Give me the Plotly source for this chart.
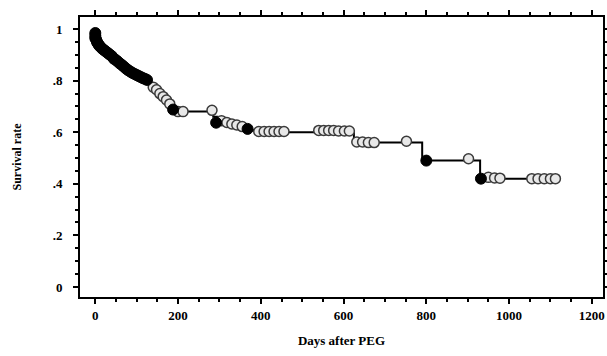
import plotly.graph_objects as go

# Kaplan-Meier step curve (event times and survival after each event)
step_days = [0, 4, 8, 12, 18, 25, 35, 45, 55, 65, 75, 85, 95, 105, 115, 125,
             135, 145, 155, 165, 175, 185, 195, 285, 295, 310, 330, 350, 375,
             400, 625, 790, 930, 1112]
step_surv = [1.0, 0.975, 0.955, 0.94, 0.925, 0.91, 0.895, 0.88, 0.868, 0.856,
             0.845, 0.835, 0.825, 0.815, 0.808, 0.80,
             0.785, 0.765, 0.75, 0.735, 0.715, 0.695, 0.68, 0.66, 0.645, 0.635,
             0.625, 0.615, 0.608, 0.60, 0.56, 0.49, 0.42, 0.42]

# Dense (black) marks
dark_days = [0, 0, 0, 2, 4, 6, 8, 10, 13, 16, 20, 24, 28, 32, 36, 40, 45, 50,
             55, 60, 65, 70, 75, 80, 85, 90, 95, 100, 105, 110, 115, 120, 125,
             188, 292, 368, 800, 932]
dark_surv = [0.985, 0.975, 0.965, 0.96, 0.95, 0.945, 0.94, 0.935, 0.93, 0.925,
             0.92, 0.915, 0.91, 0.905, 0.9, 0.895, 0.885, 0.88, 0.873, 0.866,
             0.86, 0.853, 0.846, 0.84, 0.835, 0.83, 0.826, 0.822, 0.818, 0.814,
             0.81, 0.807, 0.803, 0.688, 0.637, 0.613, 0.49, 0.42]

# Censored (light) marks
light_days = [140, 148, 156, 164, 172, 180, 200, 212, 282, 305, 318, 330, 342,
              355, 395, 408, 420, 432, 444, 456, 540, 552, 564, 576, 588, 602,
              614, 632, 646, 660, 674, 752, 902, 950, 965, 978, 1055, 1070,
              1085, 1100, 1112]
light_surv = [0.775, 0.765, 0.75, 0.738, 0.725, 0.71, 0.68, 0.68, 0.685, 0.645,
              0.638, 0.632, 0.628, 0.622, 0.603, 0.603, 0.603, 0.603, 0.603,
              0.603, 0.607, 0.607, 0.607, 0.607, 0.605, 0.605, 0.605, 0.562,
              0.562, 0.56, 0.56, 0.565, 0.497, 0.425, 0.423, 0.422, 0.42, 0.42,
              0.42, 0.42, 0.42]

y_tickvals = [0, 0.2, 0.4, 0.6, 0.8, 1.0]
y_ticktext = ["0", ".2", ".4", ".6", ".8", "1"]
x_tickvals = [0, 200, 400, 600, 800, 1000, 1200]

fig = go.Figure()
fig.add_trace(go.Scatter(x=step_days, y=step_surv, mode="lines",
                         line=dict(shape="hv", color="black", width=2),
                         hoverinfo="skip"))
fig.add_trace(go.Scatter(x=light_days, y=light_surv, mode="markers",
                         marker=dict(symbol="circle", size=10, color="#e8e8e8",
                                     line=dict(color="#3a3a3a", width=1.5))))
fig.add_trace(go.Scatter(x=dark_days, y=dark_surv, mode="markers",
                         marker=dict(symbol="circle", size=11, color="black",
                                     line=dict(color="black", width=1))))

axis_font = dict(family="Liberation Serif", size=13, color="black", weight="bold")
fig.update_layout(
    width=607, height=356,
    margin=dict(l=80, r=4, t=17, b=59),
    paper_bgcolor="white", plot_bgcolor="white",
    showlegend=False,
    font=dict(family="Liberation Serif", color="black"),
    xaxis=dict(range=[-37, 1227], tickvals=x_tickvals, automargin=False,
               showline=True, linecolor="black", linewidth=2, mirror="allticks",
               ticks="outside", ticklen=5, tickwidth=2, tickcolor="black",
               minor=dict(dtick=50, tick0=0, ticks="outside", ticklen=3,
                          tickwidth=1.5, tickcolor="black"),
               showgrid=False, zeroline=False, tickfont=axis_font,
               title=dict(text="Days after PEG", standoff=14,
                          font=dict(family="Liberation Serif", size=13,
                                    color="black", weight="bold"))),
    yaxis=dict(range=[-0.039, 1.047], tickvals=y_tickvals, ticktext=y_ticktext,
               automargin=False,
               showline=True, linecolor="black", linewidth=2, mirror="allticks",
               ticks="outside", ticklen=5, tickwidth=2, tickcolor="black",
               minor=dict(dtick=0.05, tick0=0, ticks="outside", ticklen=3,
                          tickwidth=1.5, tickcolor="black"),
               showgrid=False, zeroline=False, tickfont=axis_font,
               ticklabelstandoff=8,
               title=dict(text="Survival rate", standoff=28,
                          font=dict(family="Liberation Serif", size=12,
                                    color="black", weight="bold"))),
)

fig.write_html(
    "out.html",
    config={"displayModeBar": False},
    post_script="document.body.style.margin='0';document.body.style.overflow='hidden';",
)
